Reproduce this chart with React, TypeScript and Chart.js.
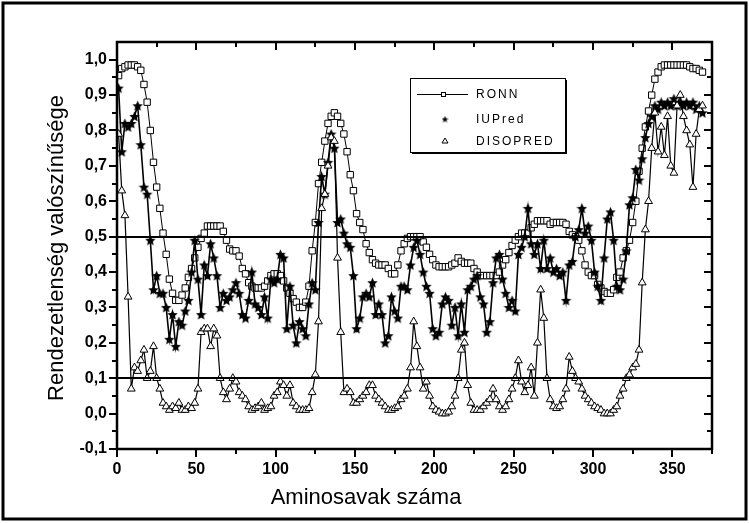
import React, { useEffect, useRef } from "react";
import { Chart, registerables } from "chart.js";
Chart.register(...registerables);

// Residue numbers (sampled every second residue)
const residues = [
  1, 3, 5, 7, 9, 11, 13, 15, 17, 19, 21, 23, 25, 27, 29, 31, 33, 35, 37, 39,
  41, 43, 45, 47, 49, 51, 53, 55, 57, 59, 61, 63, 65, 67, 69, 71, 73, 75, 77, 79,
  81, 83, 85, 87, 89, 91, 93, 95, 97, 99, 101, 103, 105, 107, 109, 111, 113, 115, 117, 119,
  121, 123, 125, 127, 129, 131, 133, 135, 137, 139, 141, 143, 145, 147, 149, 151, 153, 155, 157, 159,
  161, 163, 165, 167, 169, 171, 173, 175, 177, 179, 181, 183, 185, 187, 189, 191, 193, 195, 197, 199,
  201, 203, 205, 207, 209, 211, 213, 215, 217, 219, 221, 223, 225, 227, 229, 231, 233, 235, 237, 239,
  241, 243, 245, 247, 249, 251, 253, 255, 257, 259, 261, 263, 265, 267, 269, 271, 273, 275, 277, 279,
  281, 283, 285, 287, 289, 291, 293, 295, 297, 299, 301, 303, 305, 307, 309, 311, 313, 315, 317, 319,
  321, 323, 325, 327, 329, 331, 333, 335, 337, 339, 341, 343, 345, 347, 349, 351, 353, 355, 357, 359,
  361, 363, 365, 367, 369,
];

const ronn = [
  0.955, 0.975, 0.98, 0.985, 0.985, 0.985, 0.98, 0.97, 0.93, 0.88,
  0.8, 0.71, 0.64, 0.58, 0.51, 0.45, 0.38, 0.34, 0.32, 0.32,
  0.335, 0.355, 0.385, 0.41, 0.44, 0.47, 0.495, 0.51, 0.53, 0.53,
  0.53, 0.53, 0.53, 0.515, 0.49, 0.465, 0.46, 0.46, 0.445, 0.41,
  0.395, 0.37, 0.36, 0.355, 0.355, 0.355, 0.36, 0.375, 0.39, 0.395,
  0.395, 0.39, 0.375, 0.355, 0.34, 0.325, 0.315, 0.3, 0.3, 0.315,
  0.36, 0.46, 0.54, 0.65, 0.71, 0.77, 0.82, 0.84, 0.85, 0.84,
  0.82, 0.79, 0.74, 0.675, 0.63, 0.565, 0.54, 0.52, 0.48, 0.455,
  0.435, 0.425, 0.42, 0.42, 0.42, 0.41, 0.395, 0.395, 0.42, 0.46,
  0.48, 0.495, 0.5, 0.5, 0.5, 0.5, 0.485, 0.47, 0.45, 0.435,
  0.42, 0.415, 0.415, 0.415, 0.415, 0.42, 0.425, 0.44, 0.43, 0.425,
  0.425, 0.425, 0.41, 0.4, 0.39, 0.39, 0.39, 0.39, 0.39, 0.39,
  0.4, 0.42, 0.435, 0.455, 0.475, 0.49, 0.5, 0.51, 0.51, 0.51,
  0.525, 0.535, 0.545, 0.545, 0.545, 0.545, 0.535, 0.54, 0.54, 0.54,
  0.54, 0.535, 0.515, 0.505, 0.5, 0.49, 0.46, 0.42, 0.4, 0.39,
  0.39, 0.365, 0.355, 0.345, 0.34, 0.34, 0.35, 0.385, 0.4, 0.44,
  0.46, 0.49, 0.54, 0.6, 0.685, 0.75, 0.81, 0.855, 0.9, 0.945,
  0.965, 0.98, 0.985, 0.985, 0.985, 0.985, 0.985, 0.985, 0.985, 0.985,
  0.98, 0.975, 0.975, 0.97, 0.965,
];

const iupred = [
  0.92, 0.74, 0.82, 0.81, 0.82, 0.84, 0.87, 0.76, 0.64, 0.62,
  0.49, 0.35, 0.39, 0.34, 0.34, 0.3, 0.21, 0.28, 0.19, 0.26,
  0.25, 0.29, 0.32, 0.4, 0.49, 0.38, 0.28, 0.42, 0.39, 0.48,
  0.44, 0.39, 0.3, 0.34, 0.32, 0.33, 0.35, 0.37, 0.34, 0.28,
  0.27, 0.32, 0.4, 0.31, 0.3, 0.28, 0.33, 0.27, 0.38, 0.37,
  0.38, 0.45, 0.44, 0.24, 0.36, 0.25, 0.2, 0.26, 0.24, 0.22,
  0.31, 0.37, 0.35, 0.54, 0.67, 0.62, 0.71, 0.79, 0.75, 0.54,
  0.55, 0.51, 0.48, 0.47, 0.39, 0.24, 0.27, 0.33, 0.34, 0.33,
  0.37, 0.28, 0.31, 0.28, 0.2, 0.22, 0.33, 0.29, 0.27, 0.36,
  0.36, 0.35, 0.42, 0.47, 0.49, 0.45, 0.4, 0.36, 0.34, 0.24,
  0.22, 0.23, 0.31, 0.33, 0.32, 0.25, 0.3, 0.22, 0.31, 0.23,
  0.35, 0.36, 0.38, 0.39, 0.33, 0.31, 0.23, 0.26, 0.37, 0.44,
  0.45, 0.38, 0.34, 0.3, 0.32, 0.29, 0.45, 0.47, 0.5, 0.58,
  0.48, 0.45, 0.48, 0.41, 0.49, 0.41, 0.44, 0.4, 0.41, 0.39,
  0.4, 0.32, 0.42, 0.43, 0.5, 0.52, 0.58, 0.51, 0.53, 0.49,
  0.4, 0.36, 0.32, 0.44, 0.55, 0.57, 0.49, 0.36, 0.35, 0.38,
  0.46, 0.59, 0.61, 0.69, 0.66, 0.72, 0.78, 0.82, 0.84, 0.87,
  0.86, 0.88, 0.87, 0.88, 0.87, 0.89, 0.87, 0.88, 0.87, 0.88,
  0.87, 0.88, 0.86, 0.87, 0.85,
];

const disopred = [
  0.79, 0.63, 0.56, 0.33, 0.07, 0.13, 0.12, 0.15, 0.18, 0.1,
  0.12, 0.19, 0.1, 0.07, 0.03, 0.02, 0.01, 0.02, 0.015, 0.03,
  0.01, 0.01, 0.02, 0.015, 0.03, 0.07, 0.23, 0.24, 0.24, 0.19,
  0.24, 0.22, 0.1, 0.06, 0.04, 0.07, 0.1, 0.09, 0.06, 0.05,
  0.04, 0.02, 0.01, 0.015, 0.02, 0.03, 0.01, 0.015, 0.02, 0.05,
  0.06, 0.09, 0.08, 0.05, 0.08, 0.03, 0.02, 0.01, 0.01, 0.01,
  0.015, 0.06, 0.11, 0.26, 0.58, 0.62, 0.7, 0.78, 0.77, 0.44,
  0.23, 0.06, 0.07, 0.06, 0.03, 0.03, 0.04, 0.05, 0.06, 0.08,
  0.08, 0.05, 0.04, 0.03, 0.02, 0.01, 0.01, 0.015, 0.02, 0.04,
  0.05, 0.07, 0.13, 0.26, 0.19, 0.13, 0.07, 0.09, 0.05, 0.02,
  0.01, 0.005, 0.0, 0.0, 0.005, 0.02, 0.05, 0.1, 0.18, 0.2,
  0.08, 0.03, 0.01, 0.01, 0.01, 0.02, 0.03, 0.04, 0.07, 0.04,
  0.02, 0.01, 0.02, 0.04, 0.07, 0.1, 0.15, 0.09, 0.06, 0.08,
  0.13, 0.05, 0.2, 0.35, 0.27, 0.1, 0.04, 0.02, 0.015, 0.02,
  0.04, 0.07, 0.16, 0.12, 0.1, 0.09, 0.07, 0.05, 0.04, 0.03,
  0.02, 0.015, 0.01, 0.0, 0.0, 0.0, 0.01, 0.02, 0.05, 0.07,
  0.1, 0.11, 0.13, 0.14, 0.18, 0.37, 0.52, 0.6, 0.75, 0.85,
  0.74, 0.81, 0.73, 0.84, 0.7, 0.68, 0.87, 0.9, 0.84, 0.8,
  0.76, 0.64, 0.79, 0.86, 0.87,
];

const thresholds = [0.5, 0.1];
const seriesNames = ["RONN", "IUPred", "DISOPRED"];
const xTitle = "Aminosavak száma";
const yTitle = "Rendezetlenség valószínűsége";

const FONT = "'Liberation Sans', Arial, sans-serif";

function makeStar(size: number, inner: number): HTMLCanvasElement {
  const c = document.createElement("canvas");
  c.width = size;
  c.height = size;
  const g = c.getContext("2d")!;
  g.fillStyle = "#000";
  g.beginPath();
  for (let i = 0; i < 10; i++) {
    const r = i % 2 === 0 ? size / 2 : inner;
    const a = -Math.PI / 2 + (i * Math.PI) / 5;
    g.lineTo(size / 2 + r * Math.cos(a), size / 2 + 0.5 + r * Math.sin(a));
  }
  g.closePath();
  g.fill();
  return c;
}

const fmt = (v: number) => {
  if (Math.abs(v) < 1e-9) return "0,0";
  return v.toFixed(1).replace(".", ",");
};

export default function App() {
  const ref = useRef<HTMLCanvasElement>(null);

  useEffect(() => {
    const canvas = ref.current!;
    const star = makeStar(11, 2.6);
    const legendStar = makeStar(7, 1.6);
    const mk = (vals: number[]) => residues.map((x, i) => ({ x, y: vals[i] }));

    const decor = {
      id: "decor",
      beforeDraw(chart: any) {
        const c = chart.ctx;
        c.save();
        c.fillStyle = "#fff";
        c.fillRect(0, 0, chart.width, chart.height);
        c.restore();
      },
      afterDatasetsDraw(chart: any) {
        const c = chart.ctx;
        const { left, right } = chart.chartArea;
        const ys = chart.scales.y;
        c.save();
        c.strokeStyle = "#000";
        c.lineWidth = 2;
        thresholds.forEach((t) => {
          const y = Math.round(ys.getPixelForValue(t));
          c.beginPath();
          c.moveTo(left, y);
          c.lineTo(right, y);
          c.stroke();
        });
        c.restore();
      },
      afterDraw(chart: any) {
        const c = chart.ctx;
        const { left, right, top, bottom } = chart.chartArea;
        const xs = chart.scales.x;
        const ys = chart.scales.y;
        c.save();
        c.strokeStyle = "#000";
        // plot frame
        c.lineWidth = 2.5;
        c.strokeRect(left, top, right - left, bottom - top);
        // ticks
        c.lineWidth = 2;
        for (let k = -2; k <= 20; k++) {
          const y = Math.round(ys.getPixelForValue(k * 0.05));
          const len = k % 2 === 0 ? 8 : 5;
          c.beginPath();
          c.moveTo(left - len, y);
          c.lineTo(left, y);
          c.moveTo(right, y);
          c.lineTo(right - len, y);
          c.stroke();
        }
        for (let k = 0; k <= 15; k++) {
          const x = Math.round(xs.getPixelForValue(k * 25));
          const len = k % 2 === 0 ? 8 : 5;
          c.beginPath();
          c.moveTo(x, bottom);
          c.lineTo(x, bottom + len);
          c.moveTo(x, top);
          c.lineTo(x, top + len);
          c.stroke();
        }
        // axis titles
        c.fillStyle = "#000";
        c.font = `22px ${FONT}`;
        c.textAlign = "center";
        c.textBaseline = "middle";
        c.fillText(xTitle, 366, 498);
        c.save();
        c.translate(57, 248);
        c.rotate(-Math.PI / 2);
        c.fillText(yTitle, 0, 0);
        c.restore();

        // legend box
        const bx = 410, by = 78, bw = 155, bh = 74;
        c.fillStyle = "#fff";
        c.fillRect(bx, by, bw, bh);
        c.lineWidth = 1;
        c.strokeRect(bx + 0.5, by + 0.5, bw, bh);
        c.fillStyle = "#000";
        c.fillRect(bx + 2, by + bh, bw, 2);
        c.fillRect(bx + bw, by + 2, 2, bh);
        const rows = [94, 119, 141];
        // RONN sample
        c.beginPath();
        c.moveTo(417, rows[0] + 0.5);
        c.lineTo(468, rows[0] + 0.5);
        c.stroke();
        c.fillStyle = "#fff";
        c.fillRect(441, rows[0] - 1.5, 4, 4);
        c.strokeRect(441.5, rows[0] - 1.5, 4, 4);
        // IUPred sample
        c.drawImage(legendStar, 445 - 3.5, rows[1] - 3.5);
        // DISOPRED sample
        c.beginPath();
        c.moveTo(445, rows[2] - 3);
        c.lineTo(448, rows[2] + 2);
        c.lineTo(442, rows[2] + 2);
        c.closePath();
        c.fillStyle = "#fff";
        c.fill();
        c.stroke();
        // legend text
        c.fillStyle = "#000";
        c.font = `12px ${FONT}`;
        c.textAlign = "left";
        c.textBaseline = "middle";
        (c as any).letterSpacing = "2px";
        seriesNames.forEach((n, i) => c.fillText(n, 476, rows[i] + 1));
        (c as any).letterSpacing = "0px";

        // outer frame
        c.lineWidth = 3;
        c.strokeRect(3, 3, 743, 516);
        c.restore();
      },
    };

    const chart = new Chart(canvas, {
      type: "line",
      data: {
        datasets: [
          {
            label: seriesNames[0],
            data: mk(ronn),
            borderColor: "#000",
            borderWidth: 1,
            pointStyle: "rect",
            pointRadius: 4.5,
            pointBackgroundColor: "#fff",
            pointBorderColor: "#000",
            pointBorderWidth: 1,
            order: 3,
          },
          {
            label: seriesNames[1],
            data: mk(iupred),
            borderColor: "#000",
            borderWidth: 1.6,
            pointStyle: star as any,
            pointRadius: 5,
            order: 2,
          },
          {
            label: seriesNames[2],
            data: mk(disopred),
            borderColor: "#000",
            borderWidth: 1.2,
            pointStyle: "triangle",
            pointRadius: 4.5,
            pointBackgroundColor: "#fff",
            pointBorderColor: "#000",
            pointBorderWidth: 1,
            order: 1,
          },
        ],
      },
      options: {
        responsive: false,
        animation: false,
        devicePixelRatio: 1,
        layout: { padding: { left: 0, top: 42, right: 37, bottom: 0 } },
        plugins: {
          legend: { display: false },
          tooltip: { enabled: false },
        },
        scales: {
          x: {
            type: "linear",
            min: 0,
            max: 375,
            afterFit: (s: any) => {
              s.height = 74;
            },
            grid: { display: false, drawTicks: false },
            border: { display: false },
            ticks: {
              stepSize: 50,
              includeBounds: false,
              padding: 11,
              autoSkip: false,
              maxRotation: 0,
              color: "#000",
              font: { family: FONT, size: 16, weight: "bold" },
            },
          },
          y: {
            type: "linear",
            min: -0.1,
            max: 1.05,
            afterFit: (s: any) => {
              s.width = 117;
            },
            grid: { display: false, drawTicks: false },
            border: { display: false },
            ticks: {
              stepSize: 0.1,
              includeBounds: false,
              padding: 10,
              autoSkip: false,
              color: "#000",
              font: { family: FONT, size: 16, weight: "bold" },
              callback: (v: any) => fmt(Number(v)),
            },
          },
        },
      } as any,
      plugins: [decor],
    });
    return () => chart.destroy();
  }, []);

  return (
    <div style={{ position: "fixed", left: 0, top: 0, width: 749, height: 523, background: "#fff" }}>
      <canvas ref={ref} width={749} height={523} style={{ display: "block" }} />
    </div>
  );
}
